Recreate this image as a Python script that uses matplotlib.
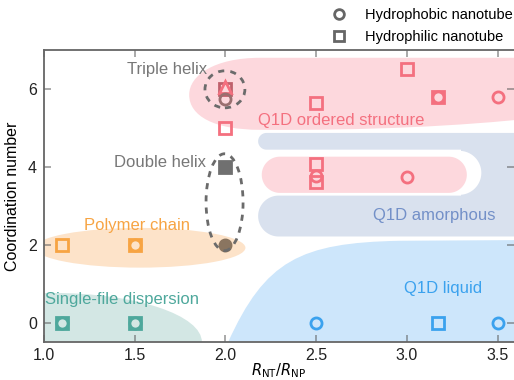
import numpy as np
import matplotlib
matplotlib.use("Agg")
import matplotlib.pyplot as plt
from matplotlib.patches import Ellipse, PathPatch, Polygon
from matplotlib.path import Path
from matplotlib.lines import Line2D

plt.rcParams['font.family'] = ['Liberation Sans', 'DejaVu Sans']

# marker data (R_NT/R_NP, coordination number)
single_x_phob = [1.1, 1.5]
single_y_phob = [0, 0]
single_x_phil = [1.1, 1.5]
single_y_phil = [0, 0]

polymer_x_phob = [1.5]
polymer_y_phob = [2]
polymer_x_phil = [1.1, 1.5]
polymer_y_phil = [2, 2]

double_x_phob = [2.0]
double_y_phob = [2.0]
double_x_phil = [2.0]
double_y_phil = [4.0]

triple_x_phob = [2.0]
triple_y_phob = [5.75]
triple_x_phil = [2.0]
triple_y_phil = [6.0]
triple_x_tri = [2.0]
triple_y_tri = [6.05]

ordered_x_phob = [2.5, 3.0, 3.17, 3.5]
ordered_y_phob = [3.77, 3.74, 5.8, 5.8]
ordered_x_phil = [2.0, 2.5, 2.5, 2.5, 3.0, 3.17]
ordered_y_phil = [5.0, 5.65, 4.08, 3.6, 6.5, 5.8]

liquid_x_phob = [2.5, 3.5]
liquid_y_phob = [0, 0]
liquid_x_phil = [3.17]
liquid_y_phil = [0]

# colours
PINK, PINK_BG = '#f4707f', '#fdd8dd'
GRAY_BG, GRAY_TXT = '#d9e1ee', '#7390c8'
BLUE, BLUE_BG = '#3ba2ee', '#cde6fb'
ORANGE, ORANGE_BG = '#f7a443', '#fde3c9'
TEAL, TEAL_BG = '#4ea89c', '#d3e7e4'
DARK = '#6b6b6b'

fig = plt.figure(figsize=(5.14, 3.8), dpi=100)
ax = fig.add_axes([44/514, 0.1, 1 - 44/514, 292/380])
ax.set_xlim(1.0, 3.59)
ax.set_ylim(-0.5, 7.0)

# ratio of data-x per data-y for round caps
axw = 470.0 / 2.59
axh = 292.0 / 7.5
kx = axh / axw


def stadium(x0, x1, y0, y1, left=True, right=True, n=40):
    r = (y1 - y0) / 2
    yc = (y0 + y1) / 2
    rx = r * kx
    pts = []
    t = np.linspace(np.pi / 2, -np.pi / 2, n)
    if right:
        pts += list(zip(x1 - rx + rx * np.cos(t), yc + r * np.sin(t)))
    else:
        pts += [(x1, y1), (x1, y0)]
    t = np.linspace(-np.pi / 2, -3 * np.pi / 2, n)
    if left:
        pts += list(zip(x0 + rx + rx * np.cos(t), yc + r * np.sin(t)))
    else:
        pts += [(x0, y0), (x0, y1)]
    return np.array(pts)


# single-file dispersion region
ax.add_patch(Ellipse((1.05, -0.5), 1.64, 2.52, color=TEAL_BG, lw=0, zorder=1))
# polymer chain
ax.add_patch(Ellipse((1.53, 1.92), 1.16, 1.02, color=ORANGE_BG, lw=0, zorder=1))

# Q1D liquid
verts = [(2.014, -0.6), (2.014, -0.51), (2.218, 1.59), (2.41, 2.05), (2.96, 2.10),
         (3.7, 2.12), (3.7, -0.6), (2.014, -0.6)]
codes = [Path.MOVETO, Path.LINETO, Path.CURVE4, Path.CURVE4, Path.CURVE4,
         Path.LINETO, Path.LINETO, Path.CLOSEPOLY]
ax.add_patch(PathPatch(Path(verts, codes), color=BLUE_BG, lw=0, zorder=1))

# Q1D ordered (upper)
verts = [(3.7, 6.80), (2.19, 6.80), (1.94, 6.80), (1.80, 6.35), (1.80, 5.85),
         (1.80, 5.30), (1.94, 4.95), (2.19, 4.95), (2.8, 4.93), (3.3, 5.05),
         (3.7, 5.25), (3.7, 6.80)]
codes = [Path.MOVETO, Path.LINETO, Path.CURVE4, Path.CURVE4, Path.CURVE4,
         Path.CURVE4, Path.CURVE4, Path.CURVE4, Path.CURVE4, Path.CURVE4,
         Path.CURVE4, Path.CLOSEPOLY]
ax.add_patch(PathPatch(Path(verts, codes), color=PINK_BG, lw=0, zorder=1))

# Q1D amorphous (C shape)
ax.add_patch(Polygon(stadium(2.18, 3.9, 4.44, 4.87), color=GRAY_BG, lw=0, zorder=1))
ax.add_patch(Polygon(stadium(2.18, 3.9, 2.21, 3.26), color=GRAY_BG, lw=0, zorder=1))
ax.add_patch(Polygon([(3.3, 2.3), (3.7, 2.3), (3.7, 4.8), (3.3, 4.8)], color=GRAY_BG, lw=0, zorder=1))
ax.add_patch(Polygon(stadium(2.1, 3.41, 3.28, 4.41, left=False), color='white', lw=0, zorder=1.5))
# Q1D ordered (inner)
ax.add_patch(Polygon(stadium(2.20, 3.33, 3.33, 4.26), color=PINK_BG, lw=0, zorder=1.6))

# dashed helix rings
ax.add_patch(Ellipse((1.997, 5.99), 0.22, 0.95, fill=False, ec=DARK, lw=2, ls=(0, (2.2, 2.2)), zorder=5))
ax.add_patch(Ellipse((1.995, 3.09), 0.204, 2.49, fill=False, ec=DARK, lw=2, ls=(0, (2.2, 2.2)), zorder=5))

ms, mew = 8, 2


def pts(x, y, marker, color, filled=False, z=4, alpha=1):
    ax.plot(x, y, ls='none', marker=marker, ms=ms, mew=mew, mec=color,
            mfc=color if filled else 'none', alpha=alpha, zorder=z)


pts(single_x_phil, single_y_phil, 's', TEAL)
pts(single_x_phob, single_y_phob, 'o', TEAL)
pts(polymer_x_phil, polymer_y_phil, 's', ORANGE)
pts(polymer_x_phob, polymer_y_phob, 'o', ORANGE)
pts(double_x_phil, double_y_phil, 's', '#707070', filled=True)
pts(double_x_phob, double_y_phob, 'o', '#8a7560', filled=True)
pts(triple_x_phil, triple_y_phil, 's', '#c0606c')
pts(triple_x_tri, triple_y_tri, '^', PINK)
pts(triple_x_phob, triple_y_phob, 'o', '#9a7070')
pts(ordered_x_phil, ordered_y_phil, 's', PINK)
pts(ordered_x_phob, ordered_y_phob, 'o', PINK)
pts(liquid_x_phil, liquid_y_phil, 's', BLUE)
pts(liquid_x_phob, liquid_y_phob, 'o', BLUE)

# region labels
fs = 12
ax.text(1.68, 6.5, 'Triple helix', color='#777777', fontsize=fs, ha='center', va='center', zorder=6)
ax.text(1.64, 4.1, 'Double helix', color='#777777', fontsize=fs, ha='center', va='center', zorder=6)
ax.text(2.64, 5.2, 'Q1D ordered structure', color=PINK, fontsize=fs, ha='center', va='center', zorder=6)
ax.text(3.15, 2.75, 'Q1D amorphous', color=GRAY_TXT, fontsize=fs, ha='center', va='center', zorder=6)
ax.text(3.2, 0.87, 'Q1D liquid', color=BLUE, fontsize=fs, ha='center', va='center', zorder=6)
ax.text(1.51, 2.5, 'Polymer chain', color=ORANGE, fontsize=fs, ha='center', va='center', zorder=6)
ax.text(1.43, 0.6, 'Single-file dispersion', color=TEAL, fontsize=fs, ha='center', va='center', zorder=6)

ax.set_xticks([1.0, 1.5, 2.0, 2.5, 3.0, 3.5])
ax.set_yticks([0, 2, 4, 6])
ax.tick_params(direction='in', top=True, right=True, length=5, width=1.2,
               color=(0.35, 0.35, 0.35, 0.6), labelsize=11.5, labelcolor='#222222', pad=5)
ax.tick_params(axis='x', pad=4)
for s in ['left', 'bottom', 'top']:
    ax.spines[s].set_color('#666666')
    ax.spines[s].set_linewidth(1.3)
ax.spines['right'].set_visible(False)

ax.set_xlabel(r'$R_{\mathrm{NT}}/R_{\mathrm{NP}}$', fontsize=10.5, labelpad=-1)
ax.set_ylabel('Coordination number', fontsize=11.5, labelpad=6)

handles = [Line2D([], [], ls='none', marker='o', ms=7, mew=2, mec='#666666', mfc='none'),
           Line2D([], [], ls='none', marker='s', ms=7, mew=2, mec='#666666', mfc='none')]
fig.legend(handles, ['Hydrophobic nanotube', 'Hydrophilic nanotube'], loc='upper left',
           bbox_to_anchor=(322/514, 1.0), frameon=False, fontsize=10.5,
           handlelength=1.2, handletextpad=1.2, labelspacing=0.55, borderaxespad=0.15)

fig.savefig('out.png', dpi=100)
